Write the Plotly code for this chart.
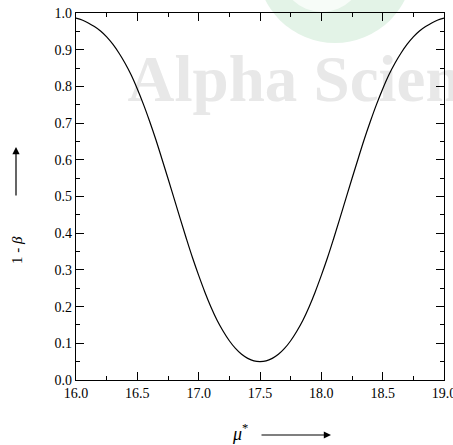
import plotly.graph_objects as go

mu = [16.00, 16.05, 16.10, 16.15, 16.20, 16.25, 16.30, 16.35, 16.40, 16.45,
      16.50, 16.55, 16.60, 16.65, 16.70, 16.75, 16.80, 16.85, 16.90, 16.95,
      17.00, 17.05, 17.10, 17.15, 17.20, 17.25, 17.30, 17.35, 17.40, 17.45,
      17.50, 17.55, 17.60, 17.65, 17.70, 17.75, 17.80, 17.85, 17.90, 17.95,
      18.00, 18.05, 18.10, 18.15, 18.20, 18.25, 18.30, 18.35, 18.40, 18.45,
      18.50, 18.55, 18.60, 18.65, 18.70, 18.75, 18.80, 18.85, 18.90, 18.95,
      19.00]
power = [0.986, 0.981, 0.973, 0.963, 0.951, 0.935, 0.915, 0.891, 0.863, 0.831,
         0.793, 0.751, 0.705, 0.656, 0.603, 0.549, 0.494, 0.439, 0.385, 0.333,
         0.285, 0.240, 0.199, 0.163, 0.133, 0.107, 0.086, 0.070, 0.059, 0.052,
         0.050, 0.052, 0.059, 0.070, 0.086, 0.107, 0.133, 0.163, 0.199, 0.240,
         0.285, 0.333, 0.385, 0.439, 0.494, 0.549, 0.603, 0.656, 0.705, 0.751,
         0.793, 0.831, 0.863, 0.891, 0.915, 0.935, 0.951, 0.963, 0.973, 0.981,
         0.986]
x_ticks = [16.0, 16.5, 17.0, 17.5, 18.0, 18.5, 19.0]
y_ticks = [0.0, 0.1, 0.2, 0.3, 0.4, 0.5, 0.6, 0.7, 0.8, 0.9, 1.0]

serif = "Liberation Serif, Times New Roman, serif"

fig = go.Figure()

# watermark text (behind the curve)
fig.add_trace(go.Scatter(
    x=[16.42], y=[0.805], mode="text", text=["<b>Alpha Science</b>"],
    textposition="middle right", cliponaxis=False, hoverinfo="skip",
    textfont=dict(family=serif, size=65, color="#e8e8e8"), showlegend=False))

fig.add_trace(go.Scatter(
    x=mu, y=power, mode="lines", line=dict(color="black", width=1.2, shape="spline", smoothing=1.0),
    showlegend=False))

W, H = 453, 445
L, R, T, B = 76, 9, 13, 65
pw, ph = W - L - R, H - T - B

def px(xp):
    return (xp - L) / pw

def py(yp):
    return (H - B - yp) / ph

fig.add_shape(type="circle", xref="paper", yref="paper", layer="below",
              x0=px(335 - 78), x1=px(335 + 78), y0=py(-35 + 78), y1=py(-35 - 78),
              fillcolor="#e3f3e7", line=dict(width=0))
fig.add_shape(type="circle", xref="paper", yref="paper", layer="below",
              x0=px(322 - 42), x1=px(322 + 42), y0=py(-30 + 42), y1=py(-30 - 42),
              fillcolor="#f7fcf8", line=dict(width=0))

axis_common = dict(
    showline=True, linecolor="black", linewidth=1.2, mirror="allticks",
    ticks="inside", ticklen=8, tickwidth=1, tickcolor="black",
    showgrid=False, zeroline=False, tickformat=".1f",
    tickfont=dict(family=serif, size=14, color="black"),
    ticklabeloverflow="allow", automargin=False,
)

fig.update_xaxes(range=[16, 19], tickvals=x_ticks,
                 minor=dict(ticks="inside", ticklen=4, tickcolor="black", dtick=0.25, showgrid=False),
                 **axis_common)
fig.update_yaxes(range=[0, 1], tickvals=y_ticks,
                 minor=dict(ticks="inside", ticklen=4, tickcolor="black", dtick=0.05, showgrid=False),
                 **axis_common)

# y title with arrow
fig.add_annotation(xref="paper", yref="paper", x=px(17), y=py(250),
                   xanchor="center", yanchor="middle",
                   text="1 - <i>β</i>", textangle=-90, showarrow=False,
                   font=dict(family=serif, size=15, color="black"))
fig.add_annotation(xref="paper", yref="paper", x=px(16), y=py(147),
                   ax=0, ay=50, text="", showarrow=True, arrowhead=2,
                   arrowsize=1.2, arrowwidth=1.2, arrowcolor="black")
# x title with arrow
fig.add_annotation(xref="paper", yref="paper", x=px(240), y=py(432),
                   xanchor="center", yanchor="middle",
                   text="<i>μ</i><sup>*</sup>", showarrow=False,
                   font=dict(family=serif, size=18, color="black"))
fig.add_annotation(xref="paper", yref="paper", x=px(331), y=py(435),
                   ax=-71, ay=0, text="", showarrow=True, arrowhead=2,
                   arrowsize=1.2, arrowwidth=1.2, arrowcolor="black")

fig.update_layout(
    width=W, height=H, margin=dict(l=L, r=R, t=T, b=B, autoexpand=False),
    plot_bgcolor="rgba(0,0,0,0)", paper_bgcolor="white",
    font=dict(family=serif, color="black"),
)

fig.write_html("out.html")
